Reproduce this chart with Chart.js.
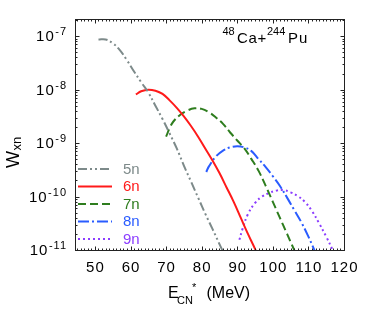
<!DOCTYPE html>
<html><head><meta charset="utf-8">
<script src="https://cdn.jsdelivr.net/npm/chart.js@4/dist/chart.umd.min.js"></script>
<style>html,body{margin:0;padding:0;background:#fff}canvas{display:block}</style>
</head><body>
<canvas id="c" width="374" height="320"></canvas>
<script>
// ---- data ----
const seriesNames = ['5n', '6n', '7n', '8n', '9n'];

const e5n = [51, 53, 55, 57, 59, 61, 63, 65, 67, 69, 71, 73, 75, 77, 79, 81, 83, 85, 86];
const w5n = [8.71e-8, 8.71e-8, 7.41e-8, 5.50e-8, 3.55e-8, 2.19e-8, 1.38e-8, 8.91e-9, 5.01e-9, 2.82e-9,
             1.51e-9, 7.94e-10, 3.80e-10, 1.91e-10, 9.55e-11, 4.79e-11, 2.51e-11, 1.29e-11, 9.3e-12];

const e6n = [61.5, 63, 65, 67, 69, 71, 73, 75, 77, 79, 81, 83, 85, 87, 89, 91, 93, 95, 96];
const w6n = [8.13e-9, 9.33e-9, 1.0e-8, 9.55e-9, 8.32e-9, 6.31e-9, 4.57e-9, 3.16e-9, 2.09e-9, 1.32e-9,
             7.94e-10, 4.79e-10, 2.75e-10, 1.48e-10, 7.94e-11, 3.98e-11, 2.0e-11, 1.05e-11, 7.1e-12];

const e7n = [70, 71, 72, 74, 76, 78, 80, 82, 84, 86, 88, 90, 92, 94, 96, 98, 100, 102, 104, 106, 107];
const w7n = [1.32e-9, 1.91e-9, 2.51e-9, 3.39e-9, 4.07e-9, 4.47e-9, 4.37e-9, 3.80e-9, 3.02e-9, 2.29e-9,
             1.58e-9, 1.12e-9, 7.94e-10, 5.01e-10, 3.02e-10, 1.58e-10, 7.94e-11, 3.98e-11, 2.0e-11, 1.0e-11, 7.1e-12];

const e8n = [81.3, 82, 84, 86, 88, 90, 92, 94, 96, 98, 100, 102, 104, 106, 108, 110, 112];
const w8n = [2.88e-10, 3.63e-10, 5.62e-10, 7.24e-10, 8.32e-10, 8.71e-10, 8.32e-10, 7.08e-10, 5.01e-10,
             3.55e-10, 2.40e-10, 1.58e-10, 9.55e-11, 5.62e-11, 3.31e-11, 1.78e-11, 8.9e-12];

const e9n = [90.6, 91.5, 93, 95, 97, 99, 101, 103, 105, 107, 109, 111, 113, 115, 117, 118];
const w9n = [1.55e-11, 2.51e-11, 4.68e-11, 7.59e-11, 1.0e-10, 1.17e-10, 1.29e-10, 1.32e-10, 1.20e-10,
             1.02e-10, 7.94e-11, 5.37e-11, 3.16e-11, 1.78e-11, 9.5e-12, 7.1e-12];

const xTicks = [50, 60, 70, 80, 90, 100, 110, 120];
const yTickExponents = [-11, -10, -9, -8, -7];

// ---- styles ----
const colors = ['#7d8a8a', '#ff1a1a', '#2e7d1e', '#2a5cff', '#8b3dff'];
const dashes = [[9, 3, 2, 3, 2, 3], [], [8, 4], [11, 3, 2, 3], [2, 3]];
const energies = [e5n, e6n, e7n, e8n, e9n];
const values = [w5n, w6n, w7n, w8n, w9n];

const datasets = seriesNames.map((name, i) => ({
  label: name,
  data: energies[i].map((e, k) => ({ x: e, y: values[i][k] })),
  showLine: true,
  borderColor: colors[i],
  backgroundColor: colors[i],
  borderWidth: 2,
  borderDash: dashes[i],
  pointRadius: 0,
  tension: 0.4,
  fill: false
}));

const FONT = '"Liberation Sans", Arial, Helvetica, sans-serif';

const deco = {
  id: 'deco',
  afterDraw(chart) {
    const ctx = chart.ctx, a = chart.chartArea, xs = chart.scales.x, ys = chart.scales.y;
    ctx.save();
    const L = Math.round(a.left) + 0.5, R = Math.round(a.right) + 0.5,
          T = Math.round(a.top) + 0.5, B = Math.round(a.bottom) + 0.5;
    ctx.strokeStyle = '#222';
    ctx.lineWidth = 1;
    ctx.setLineDash([]);
    ctx.strokeRect(L, T, R - L, B - T);
    const seg = (x1, y1, x2, y2) => { ctx.beginPath(); ctx.moveTo(x1, y1); ctx.lineTo(x2, y2); ctx.stroke(); };
    // x ticks (major every 10, minor every 1)
    for (let v = Math.ceil(xs.min); v <= xs.max; v++) {
      const px = Math.round(xs.getPixelForValue(v)) + 0.5;
      const len = (v % 10 === 0) ? 4 : 2;
      seg(px, B, px, B - len);
      seg(px, T, px, T + len);
    }
    // y ticks (log)
    for (let e = -11; e <= -7; e++) {
      for (let m = 1; m <= 9; m++) {
        const v = m * Math.pow(10, e);
        if (v < ys.min * 0.999 || v > ys.max) continue;
        const py = Math.round(ys.getPixelForValue(v)) + 0.5;
        const len = (m === 1) ? 4 : 2;
        seg(L, py, L + len, py);
        seg(R, py, R - len, py);
      }
    }
    ctx.fillStyle = '#000';
    // x tick labels
    ctx.font = '15px ' + FONT;
    ctx.letterSpacing = '1px';
    ctx.textAlign = 'center';
    ctx.textBaseline = 'middle';
    xTicks.forEach(v => {
      ctx.fillText(String(v), xs.getPixelForValue(v) + 0.5, 268);
    });
    // y tick labels 10^e
    yTickExponents.forEach(e => {
      const py = ys.getPixelForValue(Math.pow(10, e));
      const sup = String(e);
      ctx.font = '11px ' + FONT;
      const sw = ctx.measureText(sup).width;
      ctx.font = '15px ' + FONT;
      const bw = ctx.measureText('10').width;
      const right = 67;
      ctx.textAlign = 'left';
      ctx.fillText('10', right - sw - bw - 0.5, py + 1);
      ctx.font = '11px ' + FONT;
      ctx.fillText(sup, right - sw, py - 4);
    });
    ctx.letterSpacing = '0px';
    // x title: E_CN^* (MeV)
    ctx.textAlign = 'left';
    ctx.textBaseline = 'alphabetic';
    ctx.font = '16px ' + FONT;
    ctx.fillText('E', 168, 298);
    ctx.font = '11px ' + FONT;
    ctx.fillText('CN', 177, 304);
    ctx.fillText('*', 192, 291);
    ctx.font = '16px ' + FONT;
    ctx.fillText('(MeV)', 206.5, 298);
    // y title: W_xn (rotated)
    ctx.save();
    ctx.translate(18.5, 168);
    ctx.rotate(-Math.PI / 2);
    ctx.font = '18px ' + FONT;
    ctx.fillText('W', 0, 0);
    const ww = ctx.measureText('W').width;
    ctx.font = '13px ' + FONT;
    ctx.fillText('xn', ww + 0.5, 2);
    ctx.restore();
    // annotation 48Ca+244Pu
    ctx.font = '11px ' + FONT;
    ctx.fillText('48', 222.5, 35);
    ctx.font = '15px ' + FONT;
    ctx.letterSpacing = '0.7px';
    ctx.fillText('Ca+', 237, 43);
    ctx.letterSpacing = '0px';
    ctx.font = '11px ' + FONT;
    ctx.fillText('244', 267, 35);
    ctx.font = '15px ' + FONT;
    ctx.letterSpacing = '1px';
    ctx.fillText('Pu', 288, 43);
    ctx.letterSpacing = '0px';
    // legend
    const rows = [169, 186.5, 204, 221.5, 239];
    chart.data.datasets.forEach((ds, i) => {
      const y = rows[i];
      ctx.strokeStyle = ds.borderColor;
      ctx.lineWidth = ds.borderWidth;
      ctx.setLineDash(ds.borderDash || []);
      seg(78, y, 112, y);
      ctx.setLineDash([]);
      ctx.fillStyle = ds.borderColor;
      ctx.font = '15px ' + FONT;
      ctx.textBaseline = 'middle';
      ctx.fillText(ds.label, 123, y + 0.5);
    });
    ctx.restore();
  }
};

new Chart(document.getElementById('c'), {
  type: 'scatter',
  data: { datasets },
  options: {
    responsive: false,
    devicePixelRatio: 1,
    animation: false,
    layout: { padding: { left: 75, right: 30, top: 19, bottom: 70 } },
    plugins: { legend: { display: false }, tooltip: { enabled: false } },
    scales: {
      x: { type: 'linear', min: 44.4, max: 120, display: false },
      y: { type: 'logarithmic', min: 1e-11, max: 2.1e-7, display: false }
    }
  },
  plugins: [deco]
});
</script>
</body></html>
